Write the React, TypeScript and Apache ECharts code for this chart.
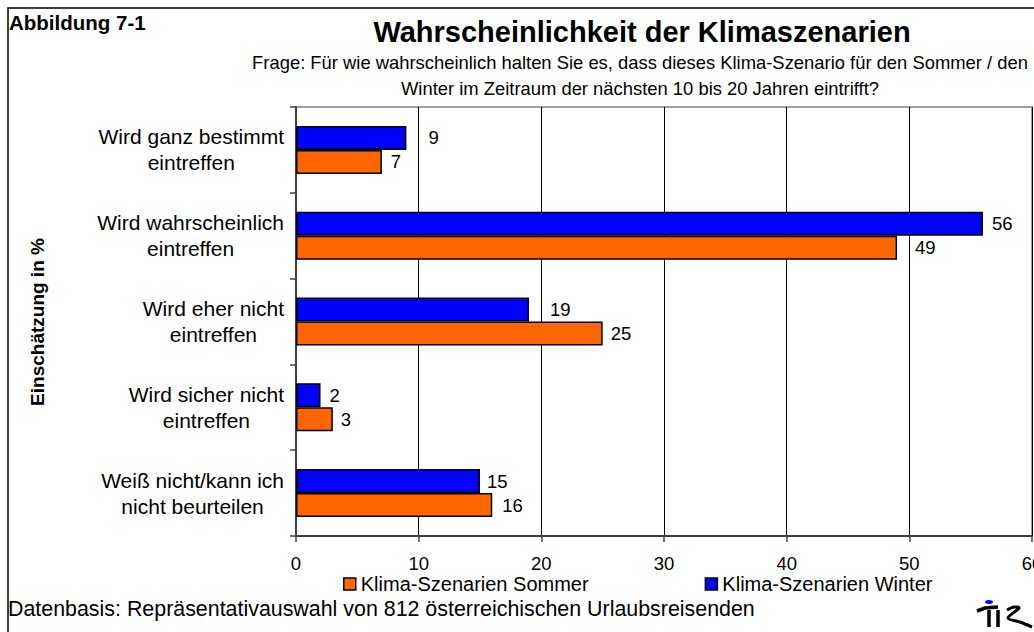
import React, { useEffect, useRef } from "react";
import * as echarts from "echarts";

const categories = [
  "Wird ganz bestimmt\neintreffen",
  "Wird wahrscheinlich\neintreffen",
  "Wird eher nicht\neintreffen",
  "Wird sicher nicht\neintreffen",
  "Weiß nicht/kann ich\nnicht beurteilen",
];
const sommerValues = [7, 49, 25, 3, 16];
const winterValues = [9, 56, 19, 2, 15];
const xTicks = [0, 10, 20, 30, 40, 50, 60];
const sommerLabelGaps = [9, 18, 8, 8, 10];
const winterLabelGaps = [22, 9, 21, 9, 7];

const FONT = "'Liberation Sans', Arial, Helvetica, sans-serif";

export default function App() {
  const ref = useRef<HTMLDivElement>(null);
  useEffect(() => {
    if (!ref.current) return;
    const chart = echarts.init(ref.current, undefined, { renderer: "svg" });
    const mkData = (vals: number[], gaps: number[]) =>
      vals.map((v, i) => ({ value: v, label: { distance: gaps[i] } }));
    const labelCfg = {
      show: true,
      position: "right",
      fontSize: 18.5,
      color: "#000",
      fontFamily: FONT,
    };
    chart.setOption({
      animation: false,
      backgroundColor: "#fff",
      textStyle: { fontFamily: FONT, color: "#000" },
      grid: {
        left: 296,
        right: 2,
        top: 107,
        bottom: 96,
        outerBoundsMode: "none",
        containLabel: false,
        show: true,
        borderColor: "#808080",
        borderWidth: 1.5,
        backgroundColor: "transparent",
      },
      legend: {
        left: 338,
        top: 569,
        itemWidth: 12,
        itemHeight: 12,
        itemGap: 116,
        icon: "rect",
        data: ["Klima-Szenarien Sommer", "Klima-Szenarien Winter"],
        textStyle: { fontSize: 20, color: "#000", fontFamily: FONT },
        itemStyle: { borderColor: "#000", borderWidth: 1.5 },
      },
      xAxis: {
        type: "value",
        min: xTicks[0],
        max: xTicks[xTicks.length - 1],
        interval: 10,
        axisLine: { show: true, lineStyle: { color: "#404040", width: 2 } },
        axisTick: { show: true, length: 6, lineStyle: { color: "#404040", width: 1.5 } },
        axisLabel: { fontSize: 18.5, color: "#000", margin: 18, fontFamily: FONT },
        splitLine: { show: true, lineStyle: { color: "#000", width: 1 } },
      },
      yAxis: {
        type: "category",
        inverse: true,
        data: categories,
        axisLine: { show: true, lineStyle: { color: "#404040", width: 2 } },
        axisTick: { show: true, length: 6, lineStyle: { color: "#404040", width: 1.5 } },
        axisLabel: {
          margin: 12,
          align: "right",
          formatter: (v: string) =>
            v
              .split("\n")
              .map((l) => `{c|${l}}`)
              .join("\n"),
          rich: {
            c: {
              align: "center",
              fontSize: 21,
              lineHeight: 26,
              color: "#000",
              fontFamily: FONT,
            },
          },
        },
        splitLine: { show: false },
      },
      series: [
        {
          name: "Klima-Szenarien Winter",
          type: "bar",
          data: mkData(winterValues, winterLabelGaps),
          barWidth: 24,
          barGap: "0%",
          itemStyle: { color: "#0000FF", borderColor: "#000", borderWidth: 1.5 },
          label: labelCfg,
        },
        {
          name: "Klima-Szenarien Sommer",
          type: "bar",
          data: mkData(sommerValues, sommerLabelGaps),
          barWidth: 24,
          barGap: "0%",
          itemStyle: { color: "#FF6600", borderColor: "#000", borderWidth: 1.5 },
          label: labelCfg,
        },
      ],
      graphic: [
        {
          type: "rect",
          shape: { x: 8, y: 8, width: 1200, height: 800 },
          style: { fill: "none", stroke: "#000", lineWidth: 1.5 },
          silent: true,
        },
        {
          type: "text",
          x: 9,
          y: 22,
          style: {
            text: "Abbildung 7-1",
            font: `bold 20.5px ${FONT}`,
            fill: "#000",
            textAlign: "left",
            textVerticalAlign: "middle",
          },
        },
        {
          type: "text",
          x: 642,
          y: 32,
          style: {
            text: "Wahrscheinlichkeit der Klimaszenarien",
            font: `bold 29px ${FONT}`,
            fill: "#000",
            textAlign: "center",
            textVerticalAlign: "middle",
          },
        },
        {
          type: "text",
          x: 640,
          y: 75,
          style: {
            text:
              "Frage: Für wie wahrscheinlich halten Sie es, dass dieses Klima-Szenario für den Sommer / den\nWinter im Zeitraum der nächsten 10 bis 20 Jahren eintrifft?",
            font: `18.4px ${FONT}`,
            lineHeight: 26,
            fill: "#000",
            textAlign: "center",
            textVerticalAlign: "middle",
          },
        },
        {
          type: "text",
          x: 37,
          y: 322,
          rotation: Math.PI / 2,
          style: {
            text: "Einschätzung in %",
            font: `bold 19px ${FONT}`,
            fill: "#000",
            textAlign: "center",
            textVerticalAlign: "middle",
          },
        },
        {
          type: "text",
          x: 8,
          y: 609,
          style: {
            text: "Datenbasis: Repräsentativauswahl von 812 österreichischen Urlaubsreisenden",
            font: `21.4px ${FONT}`,
            fill: "#000",
            textAlign: "left",
            textVerticalAlign: "middle",
          },
        },
        {
          type: "group",
          children: [
            {
              type: "ellipse",
              shape: { cx: 989, cy: 602, rx: 4, ry: 2 },
              style: { fill: "#0000FF" },
            },
            {
              type: "polyline",
              shape: { points: [[977, 611], [985, 608], [998, 607]] },
              style: { stroke: "#000", lineWidth: 3.5, fill: "none" },
            },
            {
              type: "line",
              shape: { x1: 989, y1: 610, x2: 989, y2: 627 },
              style: { stroke: "#000", lineWidth: 3.5 },
            },
            {
              type: "line",
              shape: { x1: 998, y1: 610, x2: 998, y2: 627 },
              style: { stroke: "#000", lineWidth: 3.5 },
            },
            {
              type: "polyline",
              shape: {
                points: [[1007, 610], [1014, 607], [1019, 608], [1008, 618], [1020, 622], [1032, 627]],
                smooth: 0.3,
              },
              style: { stroke: "#000", lineWidth: 3, fill: "none" },
            },
          ],
        },
      ],
    });
    return () => chart.dispose();
  }, []);
  return (
    <div
      ref={ref}
      style={{ position: "absolute", left: 0, top: 0, width: 1034, height: 632 }}
    />
  );
}
